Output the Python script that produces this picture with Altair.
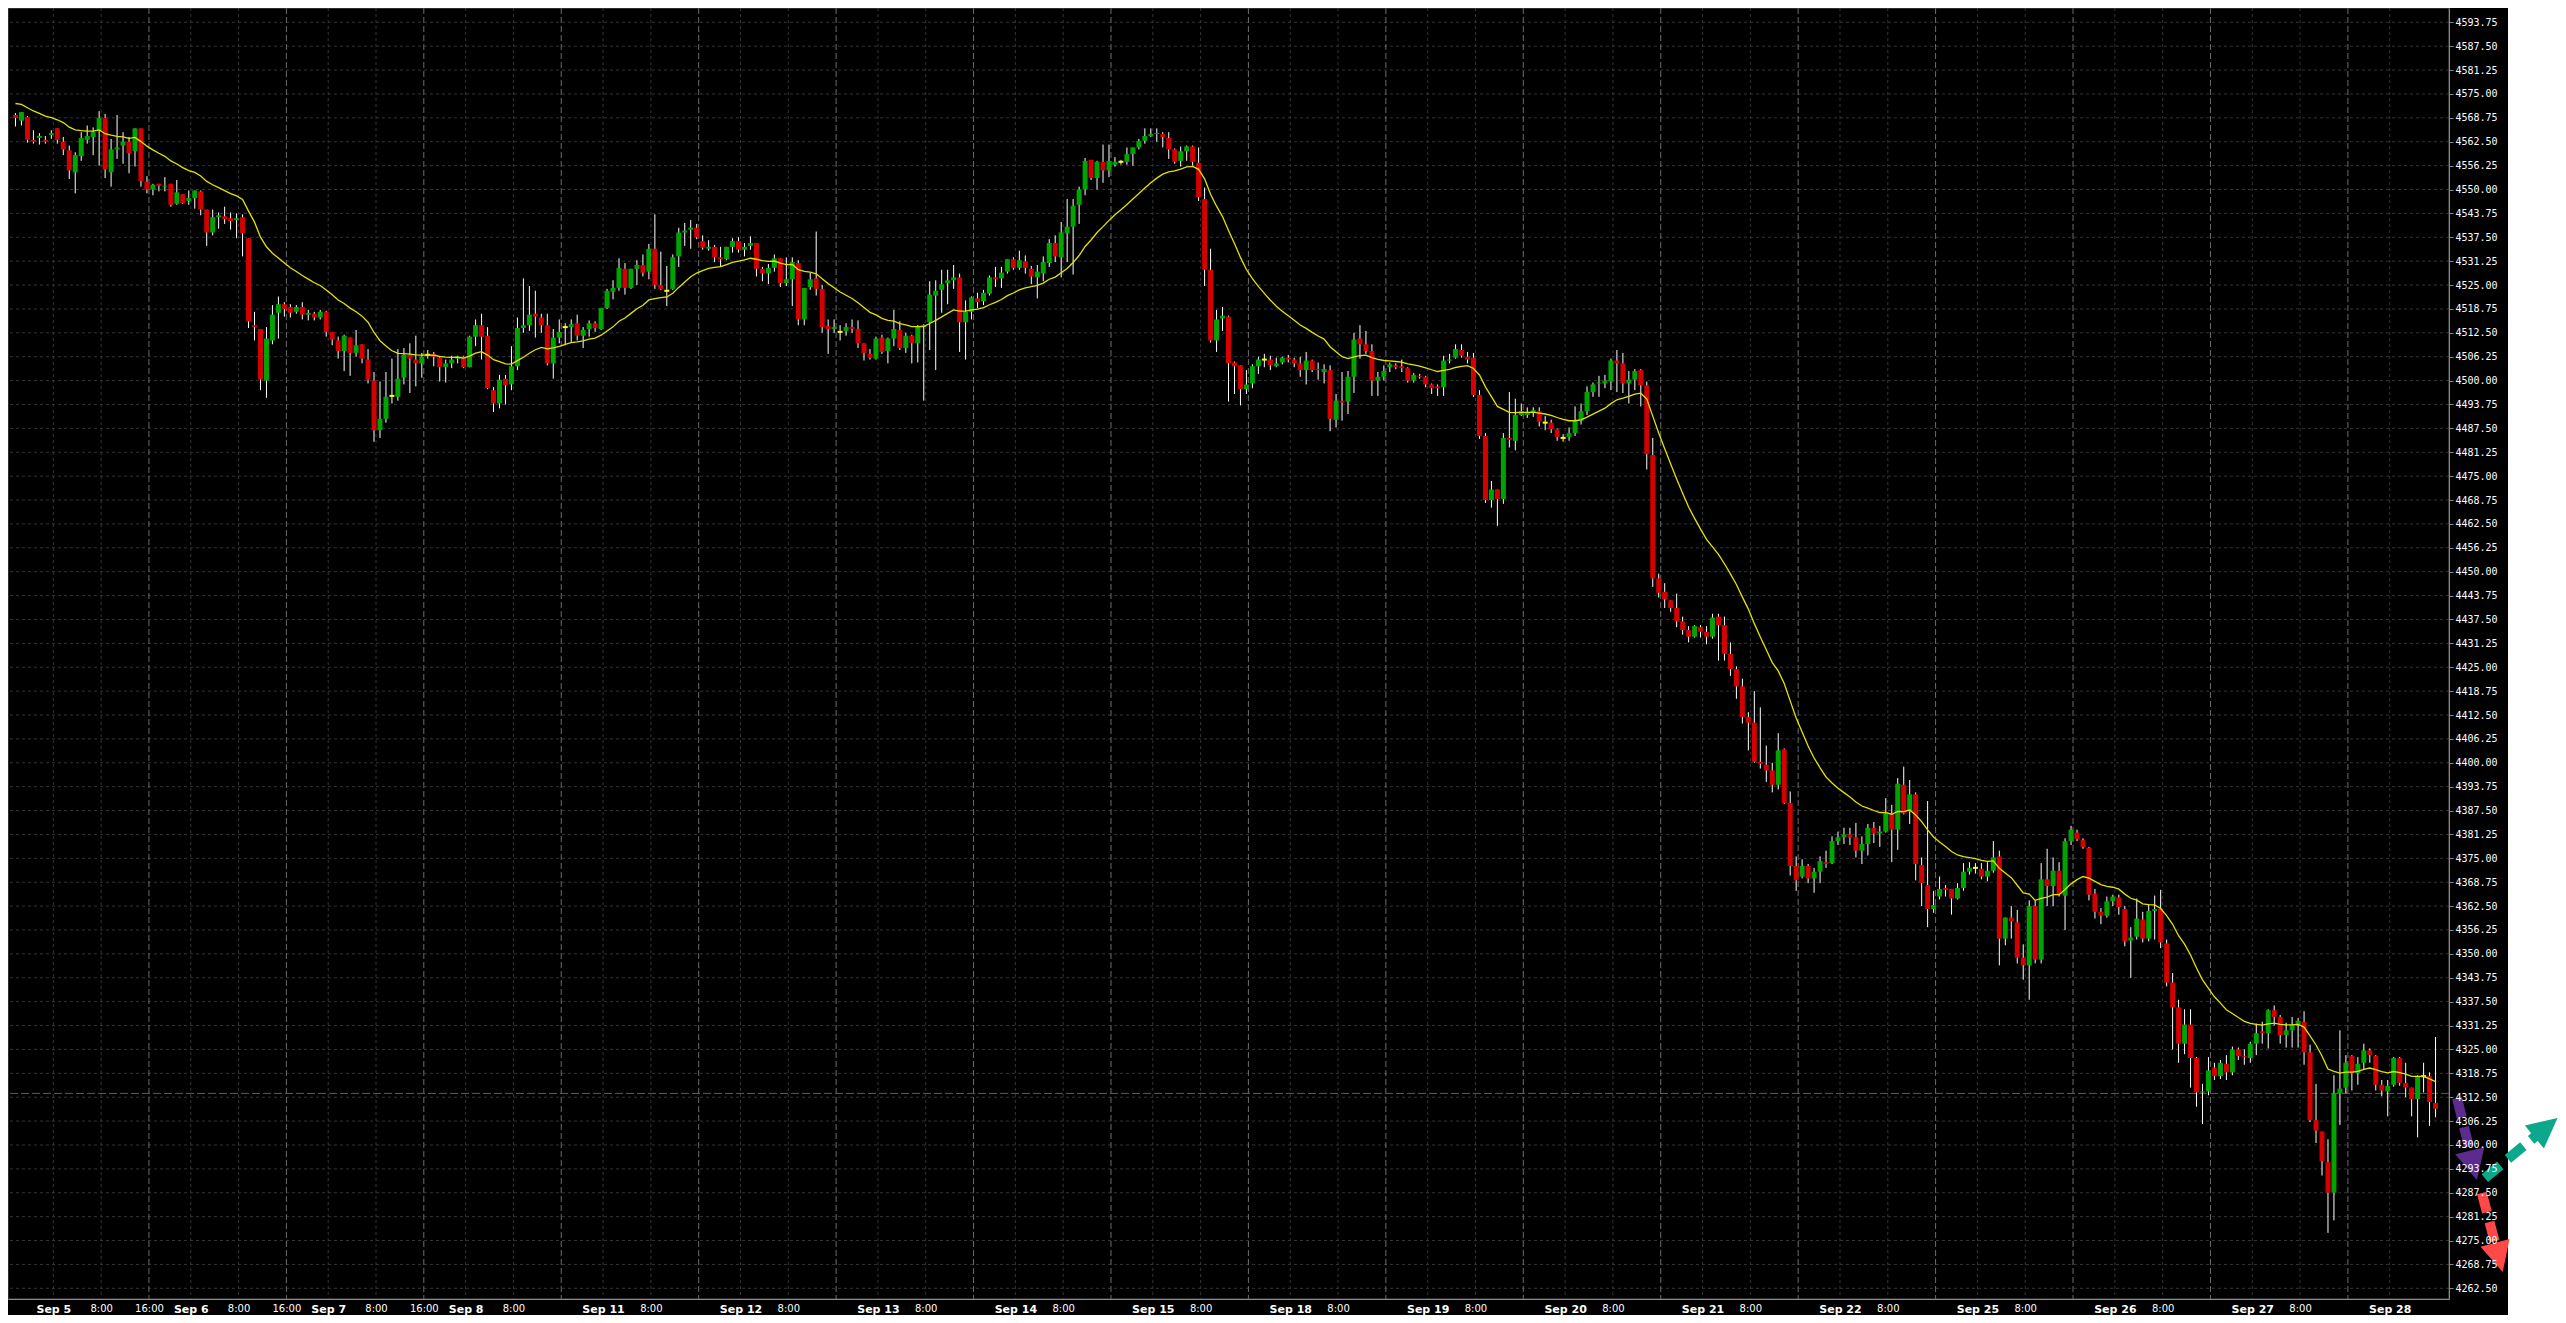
import altair as alt
import pandas as pd

# ------------------------------------------------------------------ data
# hourly candles (index 0 = first candle on the left)
OPEN = [
    4569.5, 4568, 4569, 4563, 4563.5, 4563, 4564.25, 4566, 4562.5, 4560.25,
    4554.5, 4558.75, 4563, 4563.75, 4565.25, 4568.75, 4554.5, 4560.5, 4561.5, 4562.5,
    4560, 4566, 4552, 4550, 4551.5, 4550.75, 4551.5, 4546.25, 4548.75, 4547,
    4547.75, 4549.5, 4544.75, 4538.75, 4542.75, 4543, 4542.5, 4542, 4542.75, 4537.25,
    4514.5, 4513.5, 4500, 4510.5, 4517.75, 4520, 4519.25, 4518, 4519.25, 4517.25,
    4517.5, 4516.5, 4518, 4512.75, 4510.5, 4507.75, 4511.25, 4507.25, 4509.5, 4505.5,
    4500, 4487, 4490, 4496, 4495.75, 4500.75, 4506.75, 4505.5, 4504.5, 4506.75,
    4507, 4506, 4503.5, 4504.5, 4505.75, 4506.25, 4503.5, 4511.5, 4514.5, 4511.75,
    4497.5, 4494, 4500.5, 4499, 4503.75, 4513.75, 4514.5, 4517.5, 4516.5, 4514.5,
    4504.5, 4511.25, 4514, 4514, 4515, 4511.75, 4513.5, 4515, 4513.5, 4519,
    4523.25, 4524.25, 4529.25, 4524.25, 4529.25, 4530.25, 4528.5, 4534.5, 4525, 4523.5,
    4524, 4532.5, 4538.75, 4539.5, 4540, 4536.5, 4534.5, 4535, 4532.25, 4531.75,
    4535, 4536.5, 4534.25, 4535.25, 4536, 4529.25, 4528, 4529.5, 4532, 4525.5,
    4526.5, 4530.75, 4516, 4524.5, 4526.75, 4524, 4514.25, 4513.5, 4512.75, 4513,
    4514, 4513.5, 4509.75, 4507, 4505.75, 4511.25, 4507.75, 4511, 4513.25, 4508.5,
    4511.75, 4509.75, 4514, 4515.25, 4522.25, 4523.75, 4525.5, 4526.25, 4527, 4515.25,
    4518, 4521.5, 4520.75, 4522.75, 4527, 4526.75, 4528.5, 4531.75, 4529.5, 4531.25,
    4529.25, 4527, 4528, 4530.75, 4536, 4532.25, 4538.5, 4540.25, 4546, 4550,
    4557.75, 4553, 4557.25, 4555, 4556.5, 4557.25, 4557.25, 4559.25, 4561, 4562.75,
    4564, 4564.5, 4564.5, 4563.5, 4560.5, 4557.5, 4560, 4561.25, 4557, 4547.5,
    4529, 4510.5, 4516.25, 4516.75, 4504.75, 4504, 4497.75, 4499.25, 4503.75, 4505.5,
    4505.5, 4503.75, 4504.75, 4506, 4505.5, 4504.5, 4502.75, 4505.25, 4503, 4502.25,
    4502.75, 4489.75, 4494.75, 4494.5, 4501, 4511, 4509.5, 4507.75, 4500, 4501,
    4503.5, 4504, 4503.75, 4503.25, 4500, 4501.25, 4501, 4499, 4498.5, 4498.25,
    4505.25, 4506, 4508, 4506.25, 4506, 4496.25, 4485.5, 4468.75, 4471.5, 4469,
    4485, 4484.25, 4491, 4491, 4491.75, 4492, 4489, 4489, 4487.25, 4485,
    4485.25, 4486.25, 4489.5, 4492, 4497, 4499.25, 4499.25, 4499.75, 4505.25, 4504.5,
    4499.25, 4500.25, 4502.75, 4498.75, 4480.5, 4448.25, 4444.75, 4442.5, 4440.5, 4437,
    4434.75, 4433, 4435.5, 4434.25, 4433, 4438.25, 4436, 4428.5, 4424.5, 4420,
    4412, 4410.5, 4400.25, 4399.5, 4398, 4394.25, 4403.5, 4389.5, 4373, 4370.25,
    4373, 4369.75, 4371.5, 4374, 4373.75, 4379.5, 4380.5, 4381.25, 4380.5, 4377,
    4378.75, 4383, 4381.5, 4382, 4386.75, 4382.5, 4394.25, 4387.25, 4391.75, 4373.25,
    4368, 4361.75, 4365, 4367.25, 4367, 4364.5, 4367.25, 4371.5, 4372.5, 4372.25,
    4370.25, 4371.75, 4375.5, 4354, 4359.5, 4358.25, 4349, 4347, 4362.5, 4348.5,
    4369.5, 4367.75, 4371.75, 4365.25, 4379.5, 4381.75, 4379.75, 4377.75, 4365.75, 4361,
    4360, 4363.75, 4364.75, 4361.75, 4353.5, 4354.5, 4359, 4354, 4361.25, 4361.75,
    4352.75, 4342.5, 4336, 4326.5, 4331.5, 4322.75, 4313.75, 4314, 4320.25, 4318,
    4321.25, 4319, 4325, 4323.25, 4322.75, 4326.5, 4329.75, 4329.25, 4335.25, 4333.5,
    4328.75, 4330, 4331.5, 4332.25, 4324.25, 4306.5, 4303.5, 4295.5, 4287.5, 4313.5,
    4315, 4323.25, 4318.75, 4321.5, 4324.75, 4323.25, 4315.75, 4314, 4315.75, 4322.75,
    4316.25, 4315, 4312, 4318, 4318, 4311,
]
HIGH = [
    4570, 4570.25, 4569.25, 4565.5, 4564.75, 4564, 4565.5, 4566, 4563.75, 4561.5,
    4559.75, 4565, 4566.75, 4566.25, 4570.5, 4569.75, 4563.25, 4569.5, 4565, 4563.75,
    4566, 4566, 4553.5, 4551.5, 4551.5, 4553.25, 4551.5, 4552.5, 4548.75, 4549.75,
    4549.75, 4549.75, 4544.75, 4544.75, 4544, 4545.5, 4544, 4543.75, 4543.5, 4537.25,
    4518, 4513.5, 4514, 4519.75, 4522, 4520.5, 4520, 4519.75, 4520.5, 4518.5,
    4518, 4518.5, 4518.25, 4512.75, 4511.5, 4512, 4511.25, 4513.25, 4509.5, 4508.25,
    4502.25, 4499.75, 4502.25, 4505.75, 4508.25, 4508.5, 4509.75, 4511.75, 4507.25, 4508,
    4507.5, 4506.25, 4505.5, 4506.5, 4506.5, 4506.5, 4511.75, 4516, 4517.5, 4514,
    4498.25, 4501.5, 4501.5, 4509, 4516.5, 4526.75, 4524.75, 4523.5, 4517.5, 4517.5,
    4513.5, 4516, 4515, 4516, 4517.25, 4514, 4515.75, 4515.5, 4519, 4524,
    4526.25, 4532, 4530.75, 4529.25, 4531.5, 4533, 4535.75, 4543.5, 4533.75, 4530,
    4533, 4540, 4541.25, 4542, 4541, 4538, 4536.75, 4535.5, 4535, 4535,
    4537.25, 4537.5, 4536, 4537.75, 4536, 4529.75, 4530.5, 4533, 4532, 4532.25,
    4532.25, 4531.5, 4524.25, 4528.25, 4539, 4525, 4516, 4516, 4514.5, 4515,
    4516, 4515.75, 4509.75, 4508.25, 4511.5, 4512, 4511.25, 4518.5, 4515.5, 4512.5,
    4512, 4514.5, 4514.75, 4526, 4526.25, 4529, 4529, 4530.25, 4528, 4521,
    4522, 4523, 4523.75, 4527.5, 4529.75, 4529.75, 4531.75, 4532.25, 4534, 4532.75,
    4530, 4530.25, 4532.5, 4537, 4538, 4541.5, 4547.5, 4547.5, 4550.75, 4558.25,
    4557.75, 4557.5, 4561.75, 4561.75, 4558.5, 4557.75, 4561, 4561, 4563.25, 4566,
    4566, 4566, 4565, 4565, 4560.75, 4561.25, 4561.5, 4561.5, 4561, 4550.5,
    4534.5, 4518.5, 4519.25, 4517, 4505, 4504, 4502.75, 4504.25, 4506.25, 4507,
    4506.5, 4506, 4506.25, 4506.75, 4506, 4506.25, 4507.5, 4505.5, 4504.75, 4504.25,
    4504, 4496.5, 4502.25, 4502.5, 4512.5, 4514.5, 4513, 4509.5, 4502.25, 4504,
    4504.75, 4504.5, 4505.5, 4503.5, 4502, 4501.75, 4501.25, 4499.25, 4499, 4506.5,
    4507, 4509.5, 4509.5, 4507.5, 4507.25, 4497.5, 4486.25, 4473.75, 4471.5, 4486.25,
    4497, 4495.25, 4494, 4493, 4493, 4493, 4490.75, 4489.75, 4487.5, 4486,
    4487.75, 4493.25, 4494, 4498.5, 4499.5, 4501.25, 4501.5, 4505.75, 4508, 4507.25,
    4502.5, 4503, 4503, 4499.75, 4485, 4449.5, 4447, 4442.5, 4444.25, 4438.25,
    4435.75, 4436, 4436, 4435.75, 4439, 4439, 4438.25, 4431.5, 4425.25, 4422,
    4413.25, 4418.75, 4414.5, 4404.5, 4400, 4407.75, 4403.75, 4392.5, 4375.5, 4374.75,
    4373.5, 4372.5, 4375.5, 4377, 4380.75, 4382, 4383, 4383, 4384.25, 4380.75,
    4384, 4384.5, 4383.5, 4390.75, 4389, 4396, 4399, 4395.5, 4392.25, 4375.25,
    4390, 4366.5, 4370.25, 4368, 4367, 4368.5, 4373.75, 4374, 4373.75, 4373.75,
    4374, 4379.5, 4377, 4359.5, 4362.5, 4361.5, 4352.5, 4364, 4364, 4373.75,
    4377.5, 4375.25, 4374, 4380.25, 4383.5, 4382.5, 4380.25, 4378, 4367, 4362,
    4365, 4365.5, 4365.5, 4362.5, 4357, 4364.5, 4361, 4363, 4365.25, 4366.75,
    4353.75, 4345, 4338, 4335.5, 4335.5, 4323, 4316, 4323, 4321.5, 4322.25,
    4323.5, 4325.75, 4325.5, 4325, 4327, 4331.75, 4332.25, 4335.5, 4336.5, 4334,
    4332, 4333.5, 4333.25, 4335, 4326.25, 4316, 4303.5, 4301.5, 4318.25, 4330,
    4323.5, 4323.5, 4323, 4326.5, 4325.25, 4323.5, 4317, 4317, 4323, 4323,
    4321.5, 4315, 4318.25, 4321.5, 4319, 4328.25,
]
LOW = [
    4566.5, 4566.75, 4562.25, 4562, 4561.75, 4562, 4563.25, 4562, 4559, 4552.75,
    4549, 4557.5, 4562, 4559, 4556.25, 4553, 4550.75, 4558, 4556.75, 4554.25,
    4556, 4550.75, 4549, 4548.5, 4549.5, 4549.5, 4545.5, 4546, 4546.25, 4546,
    4545, 4543.25, 4535.25, 4538, 4539.75, 4541, 4539.5, 4537.25, 4532.5, 4513.75,
    4510.5, 4497.5, 4495.5, 4509.5, 4511, 4516.75, 4516.5, 4517.5, 4516, 4515.75,
    4515.75, 4516, 4511.5, 4509.25, 4505.75, 4502.5, 4501.25, 4506.25, 4504.5, 4499.25,
    4484, 4485, 4489, 4494, 4494.75, 4499, 4496.75, 4498.5, 4500.75, 4505.75,
    4503.75, 4499.75, 4499.5, 4503.25, 4504.5, 4503.25, 4503.5, 4509, 4505.5, 4497.75,
    4491.75, 4492.75, 4493.75, 4497.5, 4502.75, 4512.5, 4513, 4511.25, 4512.5, 4504,
    4500.5, 4509.75, 4509.25, 4510, 4510.5, 4508.5, 4511.5, 4512.75, 4513.25, 4518.75,
    4521.25, 4523.5, 4522.5, 4524, 4525, 4527.25, 4526.5, 4524, 4523.75, 4519.5,
    4523.75, 4529.75, 4535.25, 4534.5, 4537, 4534.25, 4534, 4531, 4529.75, 4531.5,
    4533.5, 4533.5, 4532.5, 4534.25, 4527.25, 4526, 4525.25, 4528.5, 4524.5, 4524.75,
    4519.5, 4514.5, 4514.5, 4523.75, 4522.25, 4512.5, 4507, 4512.5, 4510.5, 4511.75,
    4512.5, 4508.5, 4505.25, 4505.5, 4505.5, 4507, 4504.5, 4509, 4508, 4507.25,
    4504.5, 4504.75, 4494.75, 4508, 4502.75, 4517.75, 4520, 4524, 4507.5, 4505.5,
    4516, 4519, 4519.75, 4522.25, 4524.5, 4524.25, 4528, 4529, 4529, 4528,
    4525.25, 4521.5, 4526, 4529.75, 4531, 4527, 4531, 4527.75, 4541, 4548.5,
    4552.5, 4550, 4551.75, 4553.25, 4556, 4556.5, 4556.5, 4556.25, 4560.5, 4562,
    4563.75, 4562.5, 4561, 4558, 4556.75, 4556, 4557.5, 4556.25, 4547, 4524.75,
    4510, 4507.5, 4513, 4494.5, 4496.5, 4493.5, 4496.5, 4498, 4501.75, 4503.5,
    4502.75, 4503.5, 4504.25, 4504.75, 4503.5, 4501, 4499, 4502.25, 4500.25, 4499.25,
    4486.75, 4487.75, 4489.5, 4491.25, 4496.75, 4505.75, 4507, 4496, 4496, 4500,
    4502.25, 4503, 4502.25, 4499.5, 4499.5, 4500.5, 4498.25, 4496.5, 4496, 4496,
    4504.5, 4505.75, 4506, 4504.5, 4495.75, 4484.75, 4468, 4466.75, 4462, 4467.75,
    4482.5, 4481.75, 4490.75, 4490.25, 4490.5, 4488, 4487, 4486.25, 4484.25, 4484,
    4484.25, 4485.5, 4488.5, 4491, 4495.75, 4495.75, 4498, 4497.5, 4497, 4496.75,
    4494, 4497.5, 4493.25, 4476.75, 4446, 4443.25, 4440.5, 4439.5, 4435.5, 4433.5,
    4431.5, 4432.75, 4432.75, 4431, 4432.5, 4426.75, 4426.75, 4422.75, 4416.75, 4410.25,
    4403.25, 4400, 4398.5, 4395, 4392.25, 4393, 4389.25, 4370.5, 4366.5, 4369.75,
    4368.5, 4366, 4368.5, 4372.5, 4373.5, 4378.5, 4378.75, 4378.5, 4375.25, 4373.5,
    4375.75, 4379, 4378, 4381.75, 4374, 4377.25, 4386.5, 4384, 4369.25, 4362.5,
    4357, 4360.75, 4364.25, 4365, 4360.25, 4364.25, 4366.5, 4370.75, 4371, 4369.5,
    4369, 4371.25, 4347, 4352.25, 4354, 4347.5, 4343.25, 4338, 4347.5, 4347.5,
    4362.5, 4362.5, 4365, 4356.25, 4378.5, 4379.5, 4377.5, 4364, 4359.25, 4357.75,
    4359.5, 4362.5, 4360.25, 4352, 4343.75, 4353.75, 4353, 4353.25, 4353.75, 4351.5,
    4341.5, 4325, 4321.5, 4323.75, 4315, 4310, 4305.5, 4313, 4317, 4317.25,
    4317, 4318.25, 4322.25, 4321, 4321.5, 4323.5, 4326.5, 4325.25, 4331.25, 4326.5,
    4325.5, 4325.5, 4325.5, 4321, 4306, 4300.5, 4292, 4277, 4280.25, 4305.25,
    4313.5, 4314.25, 4315.75, 4319.75, 4321.5, 4314.25, 4312.75, 4307.5, 4315.25, 4315.5,
    4312.5, 4307.5, 4302, 4313.75, 4305, 4307.25,
]
CLOSE = [
    4568.75, 4570.25, 4563, 4562.5, 4564, 4562.5, 4564.75, 4563, 4560.5, 4555,
    4559, 4563.5, 4564, 4565, 4568.75, 4555.25, 4560.5, 4561, 4562.5, 4559.5,
    4566, 4552.25, 4550, 4551.25, 4551, 4551, 4546, 4549.25, 4546.5, 4547.75,
    4549.75, 4544.75, 4538.75, 4542.75, 4543.25, 4542.25, 4541.75, 4542.5, 4538.5, 4515.5,
    4514, 4500.25, 4511, 4517.25, 4520, 4518.75, 4517.75, 4519.25, 4517.25, 4517.75,
    4516.5, 4518, 4512.75, 4510.75, 4507.75, 4511.75, 4507.25, 4509.25, 4505.75, 4500.25,
    4487, 4490, 4495.75, 4496, 4500.5, 4506.75, 4505.75, 4504.5, 4506.25, 4506.75,
    4506.25, 4503.5, 4504.5, 4505.5, 4506.25, 4503.5, 4511.5, 4514.5, 4511.5, 4498,
    4494, 4500.25, 4498.75, 4503.75, 4513.75, 4514.5, 4517.25, 4516.75, 4514.5, 4504.5,
    4511.25, 4512.75, 4514, 4514.75, 4511.75, 4513.25, 4515, 4513.75, 4519, 4523.5,
    4524.25, 4529.5, 4524.25, 4529.25, 4530.25, 4528.25, 4534.5, 4525, 4524, 4523.5,
    4532.25, 4538.75, 4539.25, 4540, 4537.5, 4534.75, 4535, 4532.25, 4531.75, 4535,
    4536.5, 4534.25, 4535, 4536, 4529.25, 4528, 4529.5, 4532, 4525.5, 4526.5,
    4531, 4516, 4524.25, 4526.5, 4524, 4514, 4513.5, 4514, 4512.75, 4514,
    4513.5, 4509.75, 4507.25, 4506, 4511, 4507.5, 4511, 4513.5, 4508.5, 4511.75,
    4509.75, 4514, 4514.5, 4522.5, 4523.5, 4525.25, 4526.25, 4527, 4515.25, 4518,
    4521.75, 4520.5, 4523, 4527, 4526.5, 4528.25, 4531.75, 4529.5, 4531.5, 4529.5,
    4527.25, 4528.5, 4531, 4536, 4532.5, 4538.75, 4540.25, 4545.75, 4550, 4557.5,
    4553, 4557.25, 4555, 4557.5, 4557.25, 4557.25, 4559.25, 4561, 4562.75, 4564,
    4564.5, 4564.75, 4563.75, 4560.5, 4557.25, 4560, 4561.25, 4557.25, 4548, 4529,
    4510.5, 4516, 4517, 4504.5, 4503.75, 4497.75, 4499, 4503.75, 4505.5, 4505.5,
    4504, 4504.5, 4506, 4505.5, 4504.5, 4502.75, 4505.25, 4502.75, 4502.75, 4503,
    4490, 4494.75, 4494.25, 4501, 4510.75, 4509.5, 4507.75, 4500, 4501, 4502.5,
    4504.25, 4503.5, 4503.25, 4500, 4501.5, 4501, 4499, 4498, 4498, 4505.25,
    4505.5, 4508.25, 4506.5, 4505.5, 4496.25, 4485.5, 4468.75, 4471.5, 4469, 4485,
    4484.5, 4491, 4492, 4491.75, 4492.25, 4489.25, 4489, 4487.25, 4485.25, 4485,
    4486.25, 4489.5, 4492, 4497, 4499, 4499.5, 4500, 4505.25, 4504.5, 4499.25,
    4500.25, 4502.5, 4498.75, 4480.75, 4448.25, 4444.5, 4442.75, 4440.5, 4437, 4434.75,
    4433, 4435.75, 4434.25, 4433, 4438, 4436, 4428.5, 4424.5, 4420, 4412,
    4410.5, 4400.25, 4399.75, 4398, 4394.25, 4403.25, 4389.5, 4373, 4369.25, 4373,
    4369.75, 4371.5, 4374.25, 4373.5, 4379.5, 4380.5, 4381.25, 4380.5, 4377, 4378.75,
    4383, 4381.5, 4382, 4386.75, 4382.5, 4394.5, 4386.75, 4391.75, 4373.5, 4368.5,
    4361.75, 4362.75, 4367, 4366.75, 4364.5, 4367.25, 4371.5, 4372.5, 4372.5, 4370.25,
    4371.75, 4375.25, 4354, 4359.5, 4358.5, 4349, 4347, 4362.5, 4348.5, 4369.5,
    4367.75, 4371.75, 4365.5, 4379.5, 4382.5, 4380, 4378, 4365.5, 4361, 4360,
    4363.75, 4365, 4362.25, 4353.25, 4354.25, 4359.25, 4354, 4361.25, 4361.75, 4353,
    4342.5, 4336, 4326.5, 4331.5, 4322.75, 4313.75, 4314, 4319.5, 4318, 4321.5,
    4319, 4325, 4323.25, 4323, 4326.5, 4329.25, 4329.25, 4335.25, 4333.5, 4328.75,
    4330, 4331.5, 4332.5, 4324.25, 4306.5, 4303.75, 4295.75, 4287.5, 4313.5, 4314.75,
    4321.5, 4318.75, 4321.25, 4324.75, 4323.5, 4315.75, 4314.25, 4315.5, 4322.75, 4316.25,
    4315, 4312, 4318, 4318, 4311.25, 4309.5,
]
N = len(CLOSE)
assert len(OPEN) == len(HIGH) == len(LOW) == N

# moving-average overlay of the original chart: EMA(20) of the closes,
# starting from the value read at the left edge of the picture
MA_PERIOD = 20
MA_START = 4572.5

# time axis: 23 hourly bars per session
SESSIONS = ["Sep 5", "Sep 6", "Sep 7", "Sep 8", "Sep 11", "Sep 12", "Sep 13",
            "Sep 14", "Sep 15", "Sep 18", "Sep 19", "Sep 20", "Sep 21", "Sep 22",
            "Sep 25", "Sep 26", "Sep 27", "Sep 28"]
FIRST_SESSION_BAR = 19 / 3
BARS_PER_SESSION = 23
HOUR_MARKS = [("8:00", 8), ("16:00", 16)]
SESSIONS_WITH_1600_LABEL = 3

Y_TICKS = [4262.5, 4268.75, 4275.0, 4281.25, 4287.5, 4293.75, 4300.0, 4306.25,
           4312.5, 4318.75, 4325.0, 4331.25, 4337.5, 4343.75, 4350.0, 4356.25,
           4362.5, 4368.75, 4375.0, 4381.25, 4387.5, 4393.75, 4400.0, 4406.25,
           4412.5, 4418.75, 4425.0, 4431.25, 4437.5, 4443.75, 4450.0, 4456.25,
           4462.5, 4468.75, 4475.0, 4481.25, 4487.5, 4493.75, 4500.0, 4506.25,
           4512.5, 4518.75, 4525.0, 4531.25, 4537.5, 4543.75, 4550.0, 4556.25,
           4562.5, 4568.75, 4575.0, 4581.25, 4587.5, 4593.75]
LAST_PRICE = 4313.5

# the three annotation arrows (bar index / price coordinates)
ARROW_COLOR = ["#5b2c8e", "#0ca88b", "#ff4848"]
ARROW_TAIL_X = [408.6, 413.25, 412.75]
ARROW_TAIL_Y = [4312.3, 4291.35, 4287.45]
ARROW_HEAD_X = [411.32, 423.48, 415.6]
ARROW_HEAD_Y = [4294.67, 4304.58, 4270.57]
# arrow-head outlines (unit symbol box, already pointing along each arrow)
ARROW_HEAD_SHAPE = [
    "M0.237,0.972L-1.209,-0.735L0.735,-1.209Z",
    "M0.773,-0.635L-0.138,1.408L-1.408,-0.138Z",
    "M0.257,0.966L-1.223,-0.709L0.709,-1.223Z",
]

# ------------------------------------------------------------------ derived
alpha = 2.0 / (MA_PERIOD + 1)
ma = [MA_START]
for c in CLOSE[1:]:
    ma.append(ma[-1] + alpha * (c - ma[-1]))

df = pd.DataFrame({"i": list(range(N)), "o": OPEN, "h": HIGH, "l": LOW,
                   "c": CLOSE, "ma": ma})

day_pos, hour_pos, bright_pos = [], [], []
label_pos, label_txt = [], []
for d, name in enumerate(SESSIONS):
    start = FIRST_SESSION_BAR + BARS_PER_SESSION * d
    day_pos.append(start)
    label_pos.append(start)
    label_txt.append(name)
    for txt, off in HOUR_MARKS:
        p = start + off
        if p > N - 1:
            continue
        if off == 16:
            bright_pos.append(p)
            if d < SESSIONS_WITH_1600_LABEL:
                label_pos.append(p)
                label_txt.append(txt)
        else:
            hour_pos.append(p)
            label_pos.append(p)
            label_txt.append(txt)

pos10 = [int(round(p * 10)) for p in label_pos]
day10 = [int(round(p * 10)) for p in day_pos]
pos_js = "[" + ",".join(str(v) for v in pos10) + "]"
day_js = "[" + ",".join(str(v) for v in day10) + "]"
txt_js = "[" + ",".join("'" + t + "'" for t in label_txt) + "]"
label_expr = f"{txt_js}[indexof({pos_js}, round(datum.value*10))]"
is_day = f"indexof({day_js}, round(datum.value*10)) >= 0"

# ------------------------------------------------------------------ chart
W, H = 2441, 1291
BAR_PX = 6                      # one bar = 6 px, centres on half pixels
X_MIN = -2.5 / BAR_PX
GRID = "#353535"
BRIGHT = "#6c6c6c"
AXIS_GRAY = "#8a8a8a"

xs = alt.Scale(domain=[X_MIN, X_MIN + W / BAR_PX], nice=False, zero=False)
ys = alt.Scale(domain=[4259.7, 4597.49], nice=False, zero=False)

x_axis = alt.Axis(
    values=label_pos, labelExpr=label_expr, grid=False, ticks=False,
    domainColor=AXIS_GRAY, labelColor="#ffffff", labelFont="DejaVu Sans",
    labelFontSize={"condition": {"test": is_day, "value": 11}, "value": 10},
    labelFontWeight={"condition": {"test": is_day, "value": "bold"}, "value": "normal"},
    labelPadding=4, labelOverlap=False, labelFlush=False, labelBound=False,
    title=None, zindex=1)
y_axis = alt.Axis(
    orient="right", values=Y_TICKS, format=".2f", grid=False, tickSize=4,
    tickColor=AXIS_GRAY, domainColor=AXIS_GRAY, labelColor="#ffffff",
    labelFont="DejaVu Sans Mono", labelFontSize=10, labelPadding=2,
    labelOverlap=False, title=None, zindex=1)


def X(field):
    return alt.X(field, type="quantitative", scale=xs, axis=x_axis)


def Y(field):
    return alt.Y(field, type="quantitative", scale=ys, axis=y_axis)


bg = alt.Chart(alt.Data(values=[{"k": 1}])).mark_rect(color="#000000").encode(
    x=alt.value(0), x2=alt.value(W + 59), y=alt.value(0), y2=alt.value(H + 16))

hgrid = alt.Chart(pd.DataFrame({"v": Y_TICKS})).mark_rule(
    color=GRID, strokeDash=[3, 3], strokeWidth=1).encode(y=Y("v"))
vgrid = alt.Chart(pd.DataFrame({"g": day_pos + hour_pos})).mark_rule(
    color=GRID, strokeDash=[3, 3], strokeWidth=1).encode(x=X("g"))
vbright = alt.Chart(pd.DataFrame({"g": bright_pos})).mark_rule(
    color=BRIGHT, strokeDash=[6, 3], strokeWidth=1).encode(x=X("g"))
lastline = alt.Chart(pd.DataFrame({"v": [LAST_PRICE]})).mark_rule(
    color="#5e5e5e", strokeDash=[8, 3], strokeWidth=1).encode(y=Y("v"))

base = alt.Chart(df)
wicks = base.mark_rule(color="#ffffff", strokeWidth=1).encode(
    x=X("i"), y=Y("l"), y2="h")
bodies = base.transform_filter("datum.o != datum.c").transform_calculate(
    dir="datum.c > datum.o ? 'up' : 'down'"
).mark_bar(size=5).encode(
    x=X("i"), y=Y("o"), y2="c",
    color=alt.Color("dir:N", scale=alt.Scale(domain=["up", "down"],
                                             range=["#00a400", "#d40000"]),
                    legend=None))
doji = base.transform_filter("datum.o == datum.c").transform_calculate(
    xa="datum.i - 0.42", xb="datum.i + 0.42"
).mark_rule(color="#ffff00", strokeWidth=2).encode(
    x=X("xa"), x2="xb", y=Y("o"))
maline = base.mark_line(color="#e2e200", strokeWidth=1.3).encode(
    x=X("i"), y=Y("ma"))

arrows = pd.DataFrame({"x0": ARROW_TAIL_X, "y0": ARROW_TAIL_Y,
                       "x1": ARROW_HEAD_X, "y1": ARROW_HEAD_Y,
                       "shp": ARROW_HEAD_SHAPE, "col": ARROW_COLOR})
shafts = alt.Chart(arrows).mark_rule(
    strokeWidth=10, strokeDash=[20, 10], strokeCap="butt").encode(
    x=X("x0"), y=Y("y0"), x2="x1", y2="y1",
    color=alt.Color("col:N", scale=None))
heads = alt.Chart(arrows).mark_point(
    filled=True, size=900, opacity=1).encode(
    x=X("x1"), y=Y("y1"),
    shape=alt.Shape("shp:N", scale=None),
    color=alt.Color("col:N", scale=None))

frame = alt.Chart(alt.Data(values=[{"k": 1}])).mark_rect(
    fillOpacity=0, stroke="#5a5a5a", strokeWidth=1).encode(
    x=alt.value(0), x2=alt.value(W), y=alt.value(0), y2=alt.value(H))

chart = alt.layer(
    bg, hgrid, vgrid, vbright, lastline, wicks, bodies, doji, maline,
    shafts, heads, frame
).properties(
    width=W, height=H,
    padding={"left": 0, "top": 0, "right": 109, "bottom": 16},
    autosize=alt.AutoSizeParams(type="none"),
    background="transparent",
).configure_view(stroke="transparent")

chart.save("out.html", embed_options={"renderer": "svg", "actions": False})
